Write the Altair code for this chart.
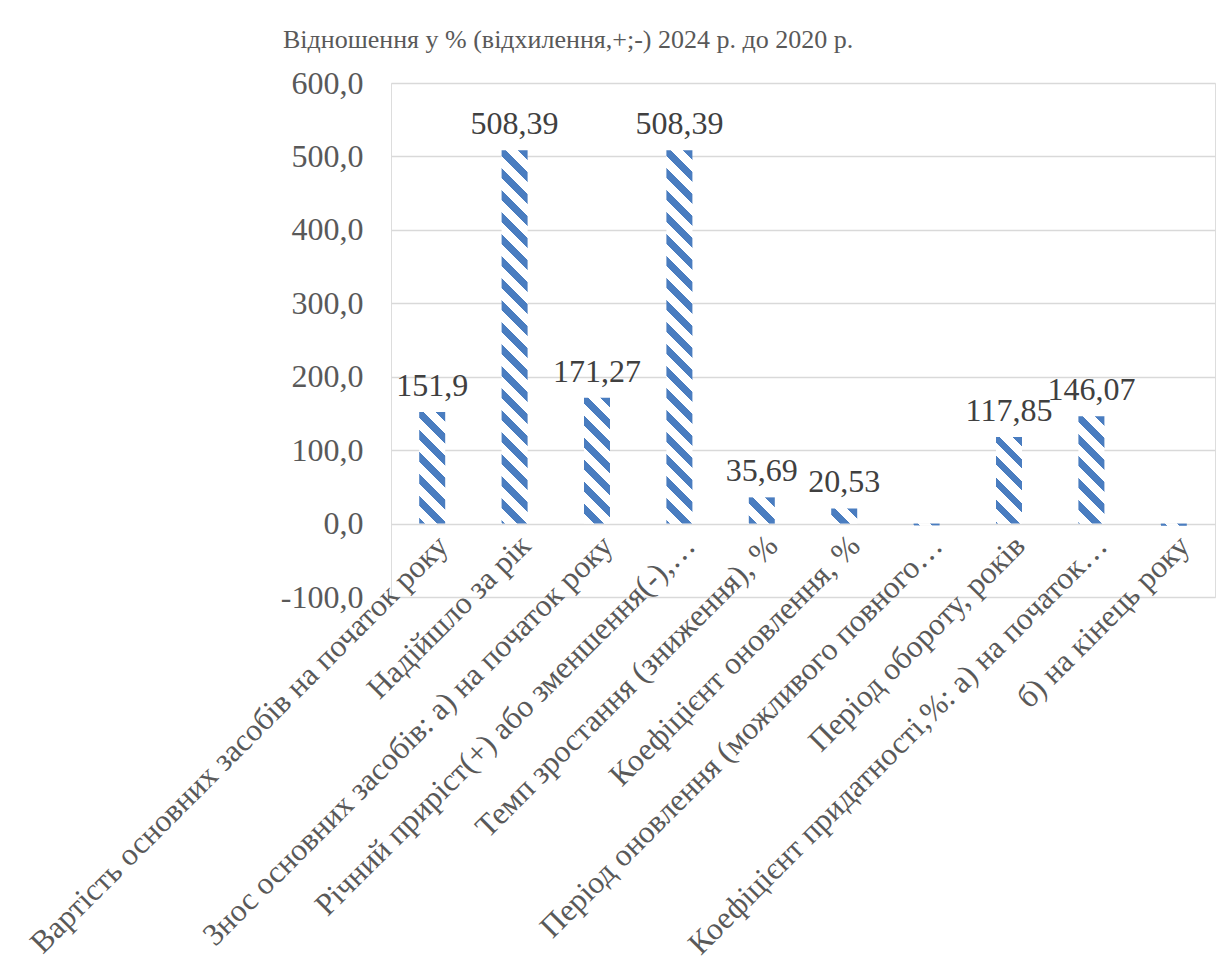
import math
import altair as alt
import pandas as pd

categories = [
    "Вартість основних засобів на початок року",
    "Надійшло за рік",
    "Знос основних засобів: а) на початок року",
    "Річний приріст(+) або зменшення(-),…",
    "Темп зростання (зниження), %",
    "Коефіцієнт оновлення, %",
    "Період оновлення (можливого повного…",
    "Період обороту, років",
    "Коефіцієнт придатності,%: а) на початок…",
    "б) на кінець року",
]
values = [151.9, 508.39, 171.27, 508.39, 35.69, 20.53, -2.5, 117.85, 146.07, -3.0]
value_labels = ["151,9", "508,39", "171,27", "508,39", "35,69", "20,53", "", "117,85", "146,07", ""]
y_ticks = [-100, 0, 100, 200, 300, 400, 500, 600]
title_text = "Відношення у % (відхилення,+;-) 2024 р. до 2020 р."

PLOT_W = 824
PLOT_H = 514
Y_MIN, Y_MAX = -100, 600
BAR_W = 26
PX_PER_UNIT = PLOT_H / (Y_MAX - Y_MIN)
STRIPE_PERIOD = 22.0
STRIPE_BLUE = 0.45
BLUE = "#4a7dc0"
WHITE = "#ffffff"
FONT = "Times New Roman, Liberation Serif, DejaVu Serif, serif"


def stripes(value):
    """Diagonal hatch approximated with a hard-stop linear gradient in bbox units."""
    w = float(BAR_W)
    h = max(abs(value) * PX_PER_UNIT, 1.0)
    span = w + h
    alpha = span / (w * w + h * h)
    stops = []
    k = 0
    while k * STRIPE_PERIOD < span:
        o0 = k * STRIPE_PERIOD / span
        o1 = min((k * STRIPE_PERIOD + STRIPE_BLUE * STRIPE_PERIOD) / span, 1.0)
        o2 = min((k + 1) * STRIPE_PERIOD / span, 1.0)
        stops += [
            alt.GradientStop(offset=o0, color=BLUE),
            alt.GradientStop(offset=o1, color=BLUE),
            alt.GradientStop(offset=o1, color=WHITE),
            alt.GradientStop(offset=o2, color=WHITE),
        ]
        k += 1
    return alt.LinearGradient(
        gradient="linear",
        x1=1, y1=0,
        x2=1 - alpha * w, y2=alpha * h,
        stops=stops,
    )


df = pd.DataFrame({
    "i": list(range(len(categories))),
    "cat": categories,
    "value": values,
    "label": value_labels,
})

x_enc = alt.X(
    "cat:N",
    sort=categories,
    scale=alt.Scale(domain=categories),
    axis=alt.Axis(
        title=None,
        labelAngle=-45,
        labelAlign="right",
        labelBaseline="top",
        labelFont=FONT,
        labelFontSize=31.5,
        labelColor="#595959",
        labelLimit=2000,
        labelOverlap=False,
        labelPadding=6,
        ticks=False,
        domain=False,
        grid=False,
        offset=-(0 - Y_MIN) * PX_PER_UNIT,
    ),
)
y_enc = alt.Y(
    "value:Q",
    scale=alt.Scale(domain=[Y_MIN, Y_MAX], nice=False, zero=False),
    axis=alt.Axis(
        title=None,
        values=y_ticks,
        labelExpr="replace(replace(format(datum.value, '.1f'), '.', ','), '\u2212', '-')",
        labelFont=FONT,
        labelFontSize=32,
        labelColor="#595959",
        labelPadding=28,
        ticks=False,
        domain=False,
        grid=True,
        gridColor="#d9d9d9",
        gridWidth=1.5,
    ),
)

base = alt.Chart(df).encode(x=x_enc, y=y_enc)

layers = []
for i, v in enumerate(values):
    layers.append(
        base.transform_filter(alt.datum.i == i).mark_bar(size=BAR_W, fill=stripes(v))
    )

text = base.transform_filter(alt.datum.label != "").mark_text(
    dy=-16, baseline="alphabetic", font=FONT, fontSize=32, color="#404040"
).encode(text="label:N")

chart = alt.layer(*layers, text).properties(
    width=PLOT_W,
    height=PLOT_H,
    autosize=alt.AutoSizeParams(type="none"),
    padding={"left": 391, "top": 83, "right": 2, "bottom": 377},
    title=alt.TitleParams(
        text=title_text,
        font=FONT,
        fontSize=26,
        fontWeight="normal",
        color="#595959",
        anchor="start",
        frame="group",
        dx=-108,
        offset=14,
    ),
).configure_view(stroke=None).configure(background="white")

chart.save("out.html", embed_options={"renderer": "svg", "actions": False})
